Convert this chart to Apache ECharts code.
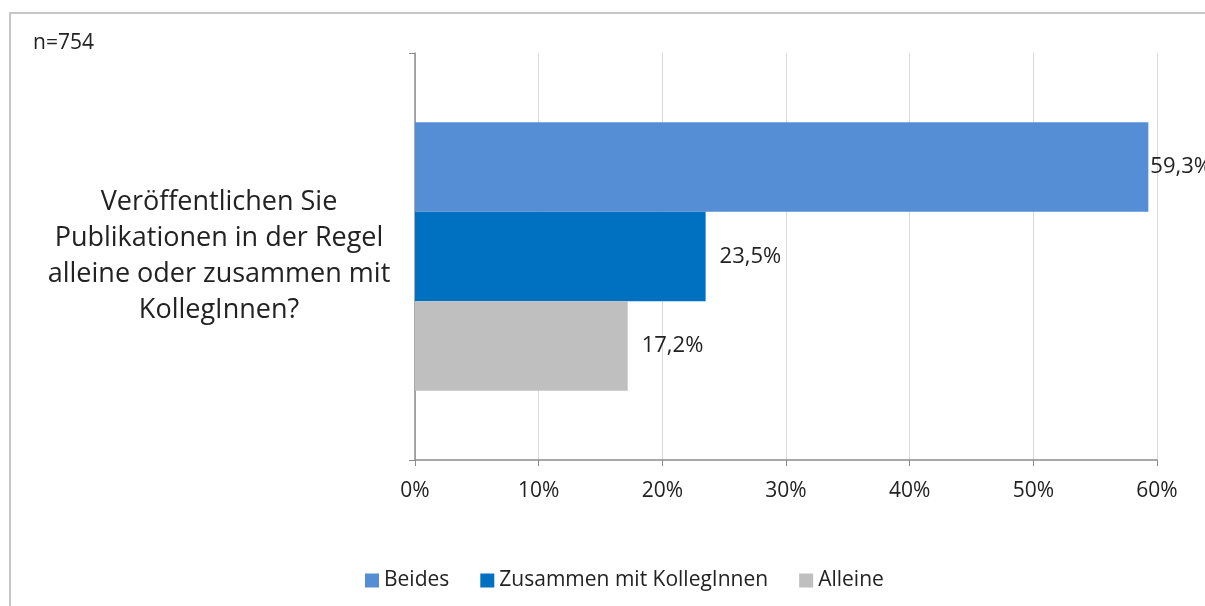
<!DOCTYPE html>
<html><head><meta charset="utf-8">
<script src="https://cdn.jsdelivr.net/npm/echarts@6/dist/echarts.min.js"></script>
<style>html,body{margin:0;padding:0;background:#fff}#c{width:1205px;height:606px}</style>
</head><body><div id="c"></div>
<script>
const categories = ['Veröffentlichen Sie\nPublikationen in der Regel\nalleine oder zusammen mit\nKollegInnen?'];
const seriesNames = ['Beides', 'Zusammen mit KollegInnen', 'Alleine'];
const beides = [59.3];
const zusammen = [23.5];
const alleine = [17.2];
const colors = ['#558ED5', '#0070C0', '#BFBFBF'];
const labelDistances = [2, 14, 14];
const font = '"Open Sans", sans-serif';
const chart = echarts.init(document.getElementById('c'));
const values = [beides, zusammen, alleine];
chart.setOption({
  animation: false,
  textStyle: {fontFamily: font},
  graphic: [
    {type: 'rect', shape: {x: 10, y: 13, width: 1400, height: 800}, style: {fill: 'none', stroke: '#c6c6c6', lineWidth: 2}},
    {type: 'text', left: 33, top: 33, style: {text: 'n=754', font: '21px ' + font, fill: '#222'}}
  ],
  legend: {
    bottom: 10, left: 360, itemWidth: 14, itemHeight: 14, itemGap: 31, icon: 'rect',
    textStyle: {fontSize: 21, color: '#222', fontFamily: font},
    data: seriesNames
  },
  grid: {left: 415, right: 48, top: 53, bottom: 146, containLabel: false},
  xAxis: {
    type: 'value', min: 0, max: 60, interval: 10,
    axisLine: {show: true, lineStyle: {color: '#8c8c8c', width: 1.5}},
    axisTick: {show: true, length: 6, lineStyle: {color: '#8c8c8c'}},
    axisLabel: {formatter: '{value}%', fontSize: 21, color: '#222', margin: 21},
    splitLine: {show: true, lineStyle: {color: '#d9d9d9'}}
  },
  yAxis: {
    type: 'category', data: categories, inverse: true,
    axisLine: {show: true, lineStyle: {color: '#8c8c8c', width: 1.5}},
    axisTick: {show: true, length: 6, lineStyle: {color: '#8c8c8c'}},
    axisLabel: {fontSize: 27, color: '#222', align: 'center', margin: 196, lineHeight: 36}
  },
  series: seriesNames.map((n, i) => ({
    name: n, type: 'bar', data: values[i], barGap: 0, barCategoryGap: '34%',
    itemStyle: {color: colors[i]},
    label: {show: true, position: 'right', distance: labelDistances[i], fontSize: 22, color: '#222',
      formatter: p => p.value.toFixed(1).replace('.', ',') + '%'}
  }))
});
</script></body></html>
